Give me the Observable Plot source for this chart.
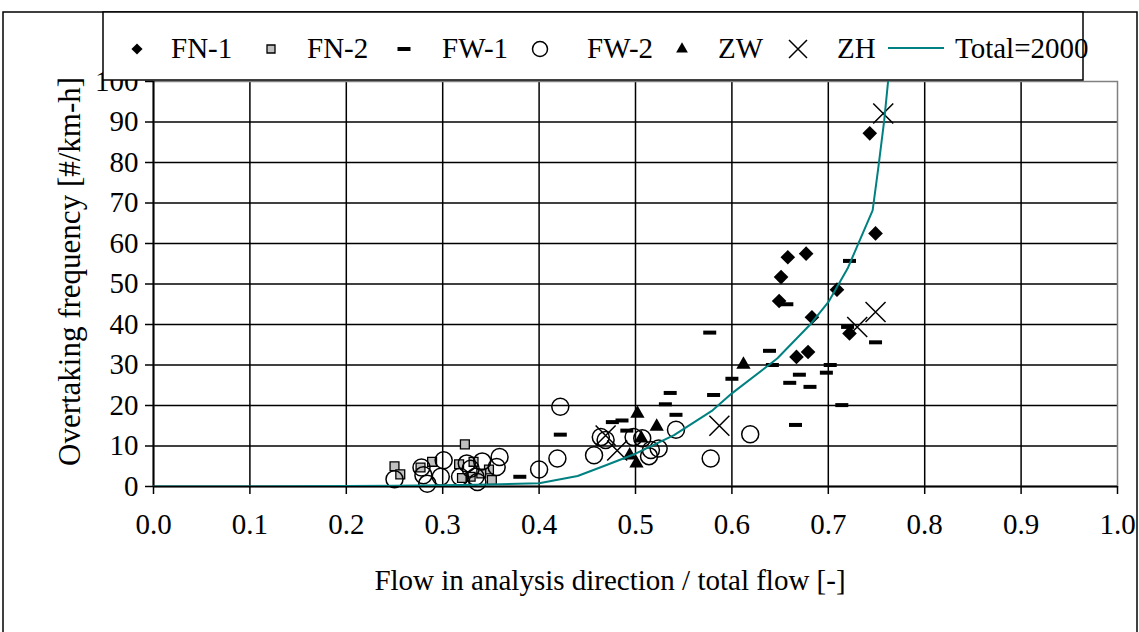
<!DOCTYPE html>
<html><head><meta charset="utf-8">
<script src="https://cdn.jsdelivr.net/npm/d3@7"></script>
<script src="https://cdn.jsdelivr.net/npm/@observablehq/plot@0.6"></script>
<style>
body{margin:0;background:#fff}
#chart{position:relative;width:1139px;height:632px;overflow:hidden}
</style>
</head><body><div id="chart"></div>
<script>
// ---- data ----
const fn1 = [[0.743,87.2],[0.749,62.5],[0.677,57.5],[0.658,56.6],[0.651,51.7],[0.649,45.8],
             [0.709,48.6],[0.683,41.8],[0.722,37.8],[0.667,32.0],[0.679,33.2]];
const fn2 = [[0.323,10.4],[0.250,5.0],[0.256,3.0],[0.289,6.1],[0.277,4.7],[0.317,5.5],
             [0.332,6.1],[0.320,2.1],[0.329,2.4],[0.348,4.2],[0.351,1.6],[0.340,3.2]];
const fw1 = [[0.577,38.0],[0.639,33.5],[0.642,30.0],[0.600,26.6],[0.581,22.6],[0.536,23.1],
             [0.531,20.3],[0.542,17.7],[0.660,25.6],[0.670,27.6],[0.681,24.6],[0.698,28.1],
             [0.702,30.0],[0.714,20.1],[0.666,15.2],[0.749,35.6],[0.657,45.0],[0.720,39.4],
             [0.722,55.7],[0.476,15.9],[0.486,16.3],[0.491,13.8],[0.422,12.8],[0.380,2.4]];
const fw2 = [[0.250,1.8],[0.278,4.7],[0.280,2.8],[0.284,0.7],[0.298,2.4],[0.301,6.5],
             [0.325,5.7],[0.329,4.4],[0.341,6.2],[0.359,7.3],[0.356,4.8],[0.334,2.4],
             [0.336,1.1],[0.318,2.4],[0.422,19.7],[0.419,6.9],[0.400,4.2],[0.457,7.7],
             [0.464,12.2],[0.469,11.5],[0.498,12.2],[0.507,11.9],[0.516,9.0],[0.524,9.4],
             [0.514,7.5],[0.542,14.0],[0.578,6.9],[0.619,12.9]];
const zw  = [[0.502,18.0],[0.522,14.8],[0.506,11.9],[0.494,7.7],[0.501,5.7],[0.612,30.1]];
const zh  = [[0.757,92.1],[0.749,43.1],[0.730,39.4],[0.587,15.0],[0.469,12.6],[0.481,8.9]];
const totalX = [0, 0.1, 0.2, 0.25, 0.3, 0.35, 0.4, 0.44, 0.47, 0.5, 0.54, 0.58, 0.6, 0.647, 0.682, 0.70, 0.72, 0.746, 0.752, 0.758, 0.762];
const totalY = [0, 0, 0.1, 0.2, 0.3, 0.5, 0.8, 2.6, 5.3, 8.1, 12.7, 18.8, 23.0, 31.6, 40.2, 45.5, 53.8, 68.2, 78.9, 90.4, 100];
const xTicks = [0,0.1,0.2,0.3,0.4,0.5,0.6,0.7,0.8,0.9,1.0];
const yTicks = [0,10,20,30,40,50,60,70,80,90,100];
const legendLabels = ["FN-1","FN-2","FW-1","FW-2","ZW","ZH","Total=2000"];
const xTitle = "Flow in analysis direction / total flow [-]";
const yTitle = "Overtaking frequency [#/km-h]";

const FONT = "'Liberation Serif','Times New Roman',serif";
const TEAL = "#008080";
const pts = a => a.map(([x,y]) => ({x,y}));
const totalLine = totalX.map((x,i) => ({x, y: totalY[i]}));

const dashSym = {draw(c){ c.rect(-6.5,-2,13,4); }};
const crossSym = {draw(c){ c.moveTo(-10,-10); c.lineTo(10,10); c.moveTo(10,-10); c.lineTo(-10,10); }};

const svg = Plot.plot({
  width: 1139, height: 632,
  marginLeft: 153, marginRight: 22, marginTop: 81, marginBottom: 146,
  style: {fontFamily: FONT, fontSize: "29px", color: "#000", background: "#fff", overflow: "visible"},
  x: {domain: [0, 1]},
  y: {domain: [0, 100]},
  marks: [
    Plot.gridX(xTicks.slice(1, -1), {stroke: "#000", strokeOpacity: 1, strokeWidth: 1.5}),
    Plot.gridY(yTicks.slice(1, -1), {stroke: "#000", strokeOpacity: 1, strokeWidth: 1.5}),
    Plot.frame({stroke: "#808080", strokeWidth: 1.5}),
    Plot.ruleX([0], {stroke: "#000", strokeWidth: 2}),
    Plot.ruleY([0], {stroke: "#000", strokeWidth: 2}),
    Plot.axisX(xTicks, {tickSize: 8, tickPadding: 19, strokeWidth: 1.5, tickFormat: d => d.toFixed(1), label: null, fontSize: 29}),
    Plot.axisY(yTicks, {tickSize: 8, tickPadding: 7, strokeWidth: 1.5, label: null, fontSize: 29}),
    Plot.dot(pts(fn1), {x: "x", y: "y", symbol: "diamond2", r: 6.6, fill: "#000", stroke: "none"}),
    Plot.dot(pts(fn2), {x: "x", y: "y", symbol: "square", r: 5.0, fill: "#c0c0c0", stroke: "#000", strokeWidth: 1.3}),
    Plot.dot(pts(fw1), {x: "x", y: "y", symbol: dashSym, fill: "#000", stroke: "none"}),
    Plot.dot(pts(fw2), {x: "x", y: "y", symbol: "circle", r: 8.5, fill: "none", stroke: "#000", strokeWidth: 1.5}),
    Plot.dot(pts(zw), {x: "x", y: "y", symbol: "triangle", r: 5.3, fill: "#000", stroke: "none"}),
    Plot.dot(pts(zh), {x: "x", y: "y", symbol: crossSym, fill: "none", stroke: "#000", strokeWidth: 1.5}),
    Plot.line(totalLine, {x: "x", y: "y", stroke: TEAL, strokeWidth: 2, clip: true})
  ]
});
document.getElementById("chart").appendChild(svg);

const s = d3.select(svg);
// y-axis title (clipped at the top like the reference)
const defs = s.append("defs");
defs.append("clipPath").attr("id", "ytclip").append("rect").attr("x", 0).attr("y", 62).attr("width", 150).attr("height", 500);
s.append("g").attr("clip-path", "url(#ytclip)")
  .append("text")
  .attr("transform", "translate(80,466) rotate(-90)")
  .attr("text-anchor", "start")
  .attr("font-family", FONT).attr("font-size", 31).attr("fill", "#000")
  .text(yTitle);
// x-axis title
s.append("text").attr("x", 610).attr("y", 590).attr("text-anchor", "middle")
  .attr("font-family", FONT).attr("font-size", 29).attr("fill", "#000")
  .text(xTitle);
// outer chart border
s.append("rect").attr("x", 3).attr("y", 12).attr("width", 1134).attr("height", 700)
  .attr("fill", "none").attr("stroke", "#000").attr("stroke-width", 1.5);
// legend
const lg = s.append("g").attr("font-family", FONT).attr("font-size", 29).attr("text-anchor", "start");
lg.append("rect").attr("x", 103).attr("y", 12).attr("width", 980).attr("height", 68)
  .attr("fill", "#fff").attr("stroke", "#000").attr("stroke-width", 1.5);
const symX = [137, 271, 404, 540, 682, 798];
const txtX = [171, 307, 442, 587, 718, 837, 955];
const cy = 49, base = 58;
lg.append("path").attr("transform", `translate(${symX[0]},${cy})`).attr("d", d3.symbol(d3.symbolDiamond2, Math.PI*5*5)()).attr("fill", "#000");
lg.append("path").attr("transform", `translate(${symX[1]},${cy})`).attr("d", d3.symbol(d3.symbolSquare, 64)()).attr("fill", "#c0c0c0").attr("stroke", "#000").attr("stroke-width", 1.3);
lg.append("rect").attr("x", symX[2]-6.5).attr("y", cy-2).attr("width", 13).attr("height", 4).attr("fill", "#000");
lg.append("circle").attr("cx", symX[3]).attr("cy", cy).attr("r", 7.5).attr("fill", "none").attr("stroke", "#000").attr("stroke-width", 1.5);
lg.append("path").attr("transform", `translate(${symX[4]},${cy})`).attr("d", d3.symbol(d3.symbolTriangle, 60)()).attr("fill", "#000");
lg.append("path").attr("transform", `translate(${symX[5]},${cy})`).attr("d", "M-9,-9L9,9M9,-9L-9,9").attr("fill", "none").attr("stroke", "#000").attr("stroke-width", 1.5);
lg.append("line").attr("x1", 888).attr("x2", 944).attr("y1", cy-1).attr("y2", cy-1).attr("stroke", TEAL).attr("stroke-width", 2);
legendLabels.forEach((t, i) => lg.append("text").attr("x", txtX[i]).attr("y", base).attr("fill", "#000").text(t));
</script>
</body></html>
